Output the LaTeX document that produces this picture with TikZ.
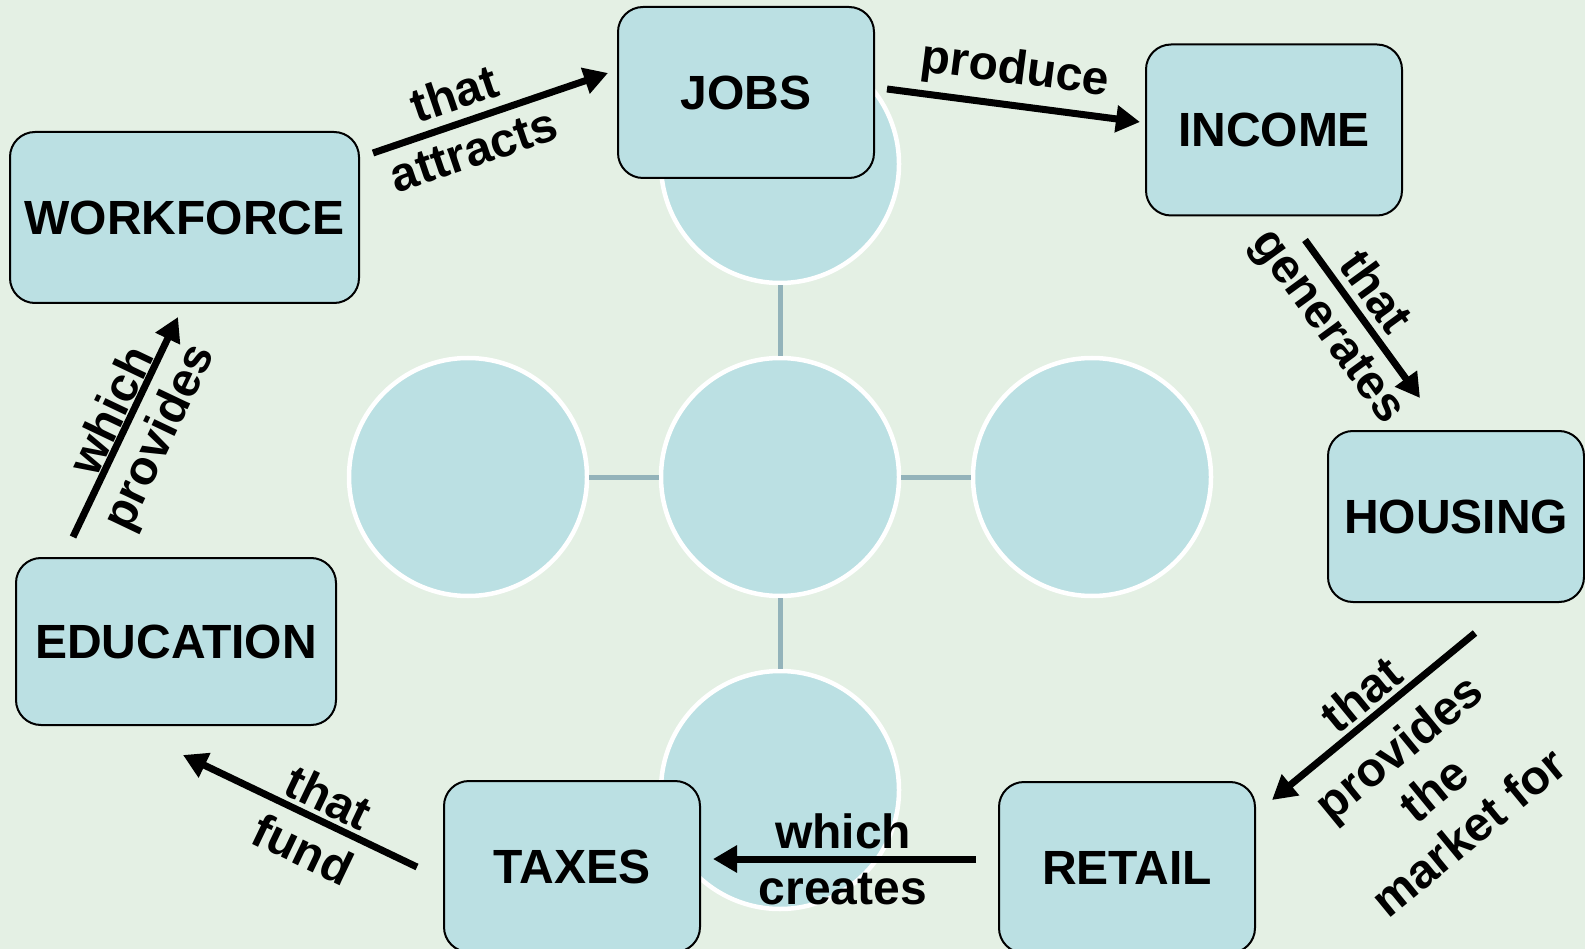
\documentclass[tikz,border=0pt]{standalone}
\usepackage{fontspec}
\setmainfont{Liberation Sans}
\usetikzlibrary{arrows.meta}
\definecolor{fond}{RGB}{228,240,228}
\definecolor{bleu}{RGB}{187,224,227}
\definecolor{gris}{RGB}{147,179,186}
\newcommand{\gras}{\fontsize{48}{55}\selectfont\bfseries}
\tikzset{
	boite/.style={draw=black,line width=2pt,fill=bleu,rounded corners=25pt,minimum width=256pt,minimum height=171pt,inner sep=0pt,font=\gras},
	rond/.style={circle,draw=white,line width=4.5pt,fill=bleu,minimum size=238pt,inner sep=0pt},
	liaison/.style={gris,line width=5pt},
	fleche/.style={line width=7pt,-{Triangle[length=24pt,width=26pt]}},
	etiq/.style={font=\gras,inner sep=0pt,align=center}
}
\begin{document}
\begin{tikzpicture}[x=1pt,y=-1pt]
%					Fond :
					\useasboundingbox (0,0) rectangle (1585,949);
					\clip (0,0) rectangle (1585,949);
					\fill[fond] (0,0) rectangle (1585,949);
%					Tracé des cercles :
					\node[rond] (centre) at (780,477) {};
					\node[rond] (haut) at (780,164) {};
					\node[rond] (bas) at (780,790) {};
					\node[rond] (gauche) at (468,477) {};
					\node[rond] (droite) at (1092,477) {};
					\draw[liaison] (centre) -- (haut);
					\draw[liaison] (centre) -- (bas);
					\draw[liaison] (centre) -- (gauche);
					\draw[liaison] (centre) -- (droite);
%					Tracé des boîtes :
					\node[boite] (jobs) at (746,92.5) {JOBS};
					\node[boite] (income) at (1274,130) {INCOME};
					\node[boite] (housing) at (1456,516.5) {HOUSING};
					\node[boite] (retail) at (1127,867.5) {RETAIL};
					\node[boite] (taxes) at (572,866.5) {TAXES};
					\node[boite,minimum width=320pt,minimum height=167pt] (education) at (176,641.5) {EDUCATION};
					\node[boite,minimum width=349pt] (workforce) at (184.5,217.5) {WORKFORCE};
%					Extrémités des flèches :
					\coordinate (wa) at (373,153);
					\coordinate (wb) at (608,73);
					\coordinate (ja) at (887,89);
					\coordinate (jb) at (1140,122);
					\coordinate (ia) at (1305,240);
					\coordinate (ib) at (1420,398);
					\coordinate (ha) at (1475,633);
					\coordinate (hb) at (1272,800);
					\coordinate (ra) at (976,859);
					\coordinate (rb) at (713,859);
					\coordinate (ta) at (417,867);
					\coordinate (tb) at (183,755);
					\coordinate (ea) at (73,537);
					\coordinate (eb) at (178,317);
%					Tracé des flèches :
					\draw[fleche] (wa) -- (wb);
					\draw[fleche] (ja) -- (jb);
					\draw[fleche] (ia) -- (ib);
					\draw[fleche] (ha) -- (hb);
					\draw[fleche] (ra) -- (rb);
					\draw[fleche] (ta) -- (tb);
					\draw[fleche] (ea) -- (eb);
%					Étiquettes :
					\draw (454,93) node[etiq,rotate=18.8]{that};
					\draw (474,151) node[etiq,rotate=18.8]{attracts};
					\draw (1015,71) node[etiq,rotate=-7.4]{produce};
					\draw (1377,291) node[etiq,rotate=-53.9]{that};
					\draw (1326,328) node[etiq,rotate=-53.9]{generates};
					\draw (1361,694) node[etiq,rotate=39.4]{that};
					\draw (1433,789) node[etiq,rotate=39.4]{provides\\the\\market for};
					\draw (843,831) node[etiq]{which};
					\draw (843,889) node[etiq]{creates};
					\draw (329,797) node[etiq,rotate=-25.6]{that};
					\draw (303,849) node[etiq,rotate=-25.6]{fund};
					\draw (110,410) node[etiq,rotate=64.5]{which};
					\draw (161,438) node[etiq,rotate=64.5]{provides};
				\end{tikzpicture}
\end{document}
